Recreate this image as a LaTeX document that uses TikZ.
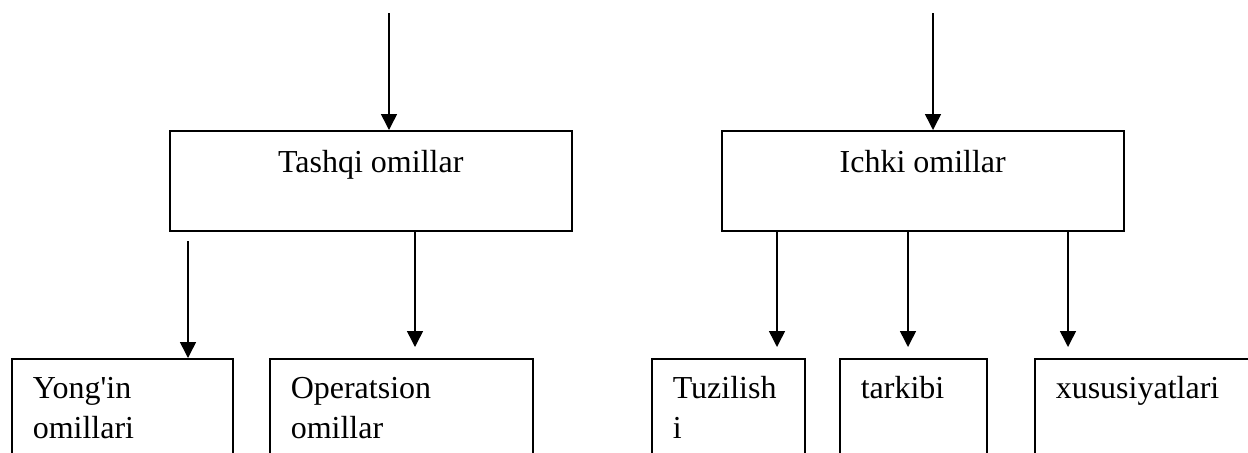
\documentclass[tikz,border=0pt]{standalone}
\usepackage{fontspec}
\setmainfont{Liberation Serif}
\usetikzlibrary{arrows.meta}

\newlength{\pxu}
\setlength{\pxu}{0.5pt}

\tikzset{
    omil/.style={draw, line width=0.75pt, inner sep=0pt, anchor=north west,
                 font=\fontsize{16}{20}\selectfont},
    strelka/.style={line width=0.75pt, -{Triangle[width=8pt,length=8pt]}},
}

% matn: yuqori (markazda) va quyi (chapda) qutilar uchun
\newcommand{\yuqorimatn}[1]{\parbox[t][100\pxu][t]{402\pxu}{\centering\vspace*{7pt}\strut #1}}
\newcommand{\quyimatn}[2]{\parbox[t][140\pxu][t]{#1\pxu}{\raggedright\leftskip=10.5pt\vspace*{6pt}\strut #2}}

\begin{document}
\begin{tikzpicture}[x=\pxu, y=-\pxu]
                    \useasboundingbox (0,0) rectangle (1248,452);
                    \clip (0,0) rectangle (1248,452);

                    \node[omil] (tashqi) at (169,130) {\yuqorimatn{Tashqi omillar}};
                    \node[omil] (ichki) at (721,130) {\yuqorimatn{Ichki omillar}};

                    \node[omil] (yongin) at (11,358) {\quyimatn{221}{Yong\textquotesingle in\\omillari}};
                    \node[omil] (operatsion) at (269,358) {\quyimatn{263}{Operatsion\\omillar}};
                    \node[omil] (tuzilish) at (651,358) {\quyimatn{153}{Tuzilish\\i}};
                    \node[omil] (tarkib) at (839,358) {\quyimatn{147}{tarkibi}};
                    \node[omil] (xususiyat) at (1034,358) {\quyimatn{230}{xususiyatlari}};

                    \coordinate (kirish1) at (389,13);
                    \coordinate (kirish2) at (933,13);
                    \draw[strelka] (kirish1) -- (kirish1 |- tashqi.north);
                    \draw[strelka] (kirish2) -- (kirish2 |- ichki.north);

                    \coordinate (boshla) at (188,241);
                    \draw[strelka] (boshla) -- (boshla |- yongin.north);
                    \draw[strelka] (tashqi.south -| 415,0) -- (415,347);

                    \foreach \x in {777,908,1068}
                        \draw[strelka] (ichki.south -| \x,0) -- (\x,347);
\end{tikzpicture}
\end{document}
